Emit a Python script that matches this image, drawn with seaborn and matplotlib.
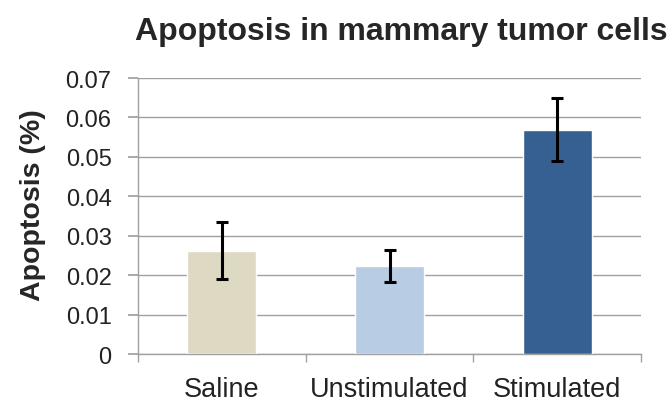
import matplotlib
matplotlib.use("Agg")
import matplotlib.pyplot as plt
import seaborn as sns
import pandas as pd

categories = ["Saline", "Unstimulated", "Stimulated"]
values = [0.0262, 0.0224, 0.0569]
errors = [0.0072, 0.0041, 0.0080]
colors = ["#DDD9C3", "#B8CCE4", "#366092"]

sns.set_theme(style="white")
plt.rcParams["font.family"] = ["Liberation Sans", "DejaVu Sans"]

df = pd.DataFrame({"cat": categories, "val": values})

fig = plt.figure(figsize=(6.68, 4.06), dpi=100)
ax = fig.add_axes([0.2066, 0.1256, 0.753, 0.6798])

sns.barplot(data=df, x="cat", y="val", hue="cat", palette=colors,
            width=0.41, saturation=1, legend=False, ax=ax, zorder=3)
ax.errorbar(range(len(categories)), values, yerr=errors, fmt="none",
            ecolor="black", elinewidth=2.2, capsize=4.5, capthick=2.2, zorder=4)

ax.set_xlim(-0.5, 2.5)
ax.set_ylim(0, 0.07)
ax.set_yticks([0, 0.01, 0.02, 0.03, 0.04, 0.05, 0.06, 0.07])
ax.set_yticklabels(["0", "0.01", "0.02", "0.03", "0.04", "0.05", "0.06", "0.07"])
ax.yaxis.grid(True, color="#A0A0A0", linewidth=1.0, zorder=0)
ax.set_axisbelow(True)
for s in ["top", "right"]:
    ax.spines[s].set_visible(False)
for s in ["left", "bottom"]:
    ax.spines[s].set_color("#A0A0A0")
    ax.spines[s].set_linewidth(1.0)

ax.tick_params(axis="y", which="major", left=True, length=7, color="#A0A0A0",
               labelsize=17, labelcolor="#222222", pad=12)
ax.tick_params(axis="x", which="major", bottom=False, labelsize=19.5,
               labelcolor="#222222", pad=10)
ax.set_xticks([-0.5, 0.5, 1.5, 2.5], minor=True)
ax.tick_params(axis="x", which="minor", bottom=True, length=6, color="#A0A0A0")

ax.set_xlabel("")
ax.set_ylabel("Apoptosis (%)", fontsize=20.5, fontweight="bold")
ax.yaxis.set_label_coords(-0.183, 0.543)
fig.text(135 / 668, 0.922, "Apoptosis in mammary tumor cells", fontsize=23,
         fontweight="bold", ha="left", va="center")

fig.savefig("out.png", dpi=100, facecolor="white")
